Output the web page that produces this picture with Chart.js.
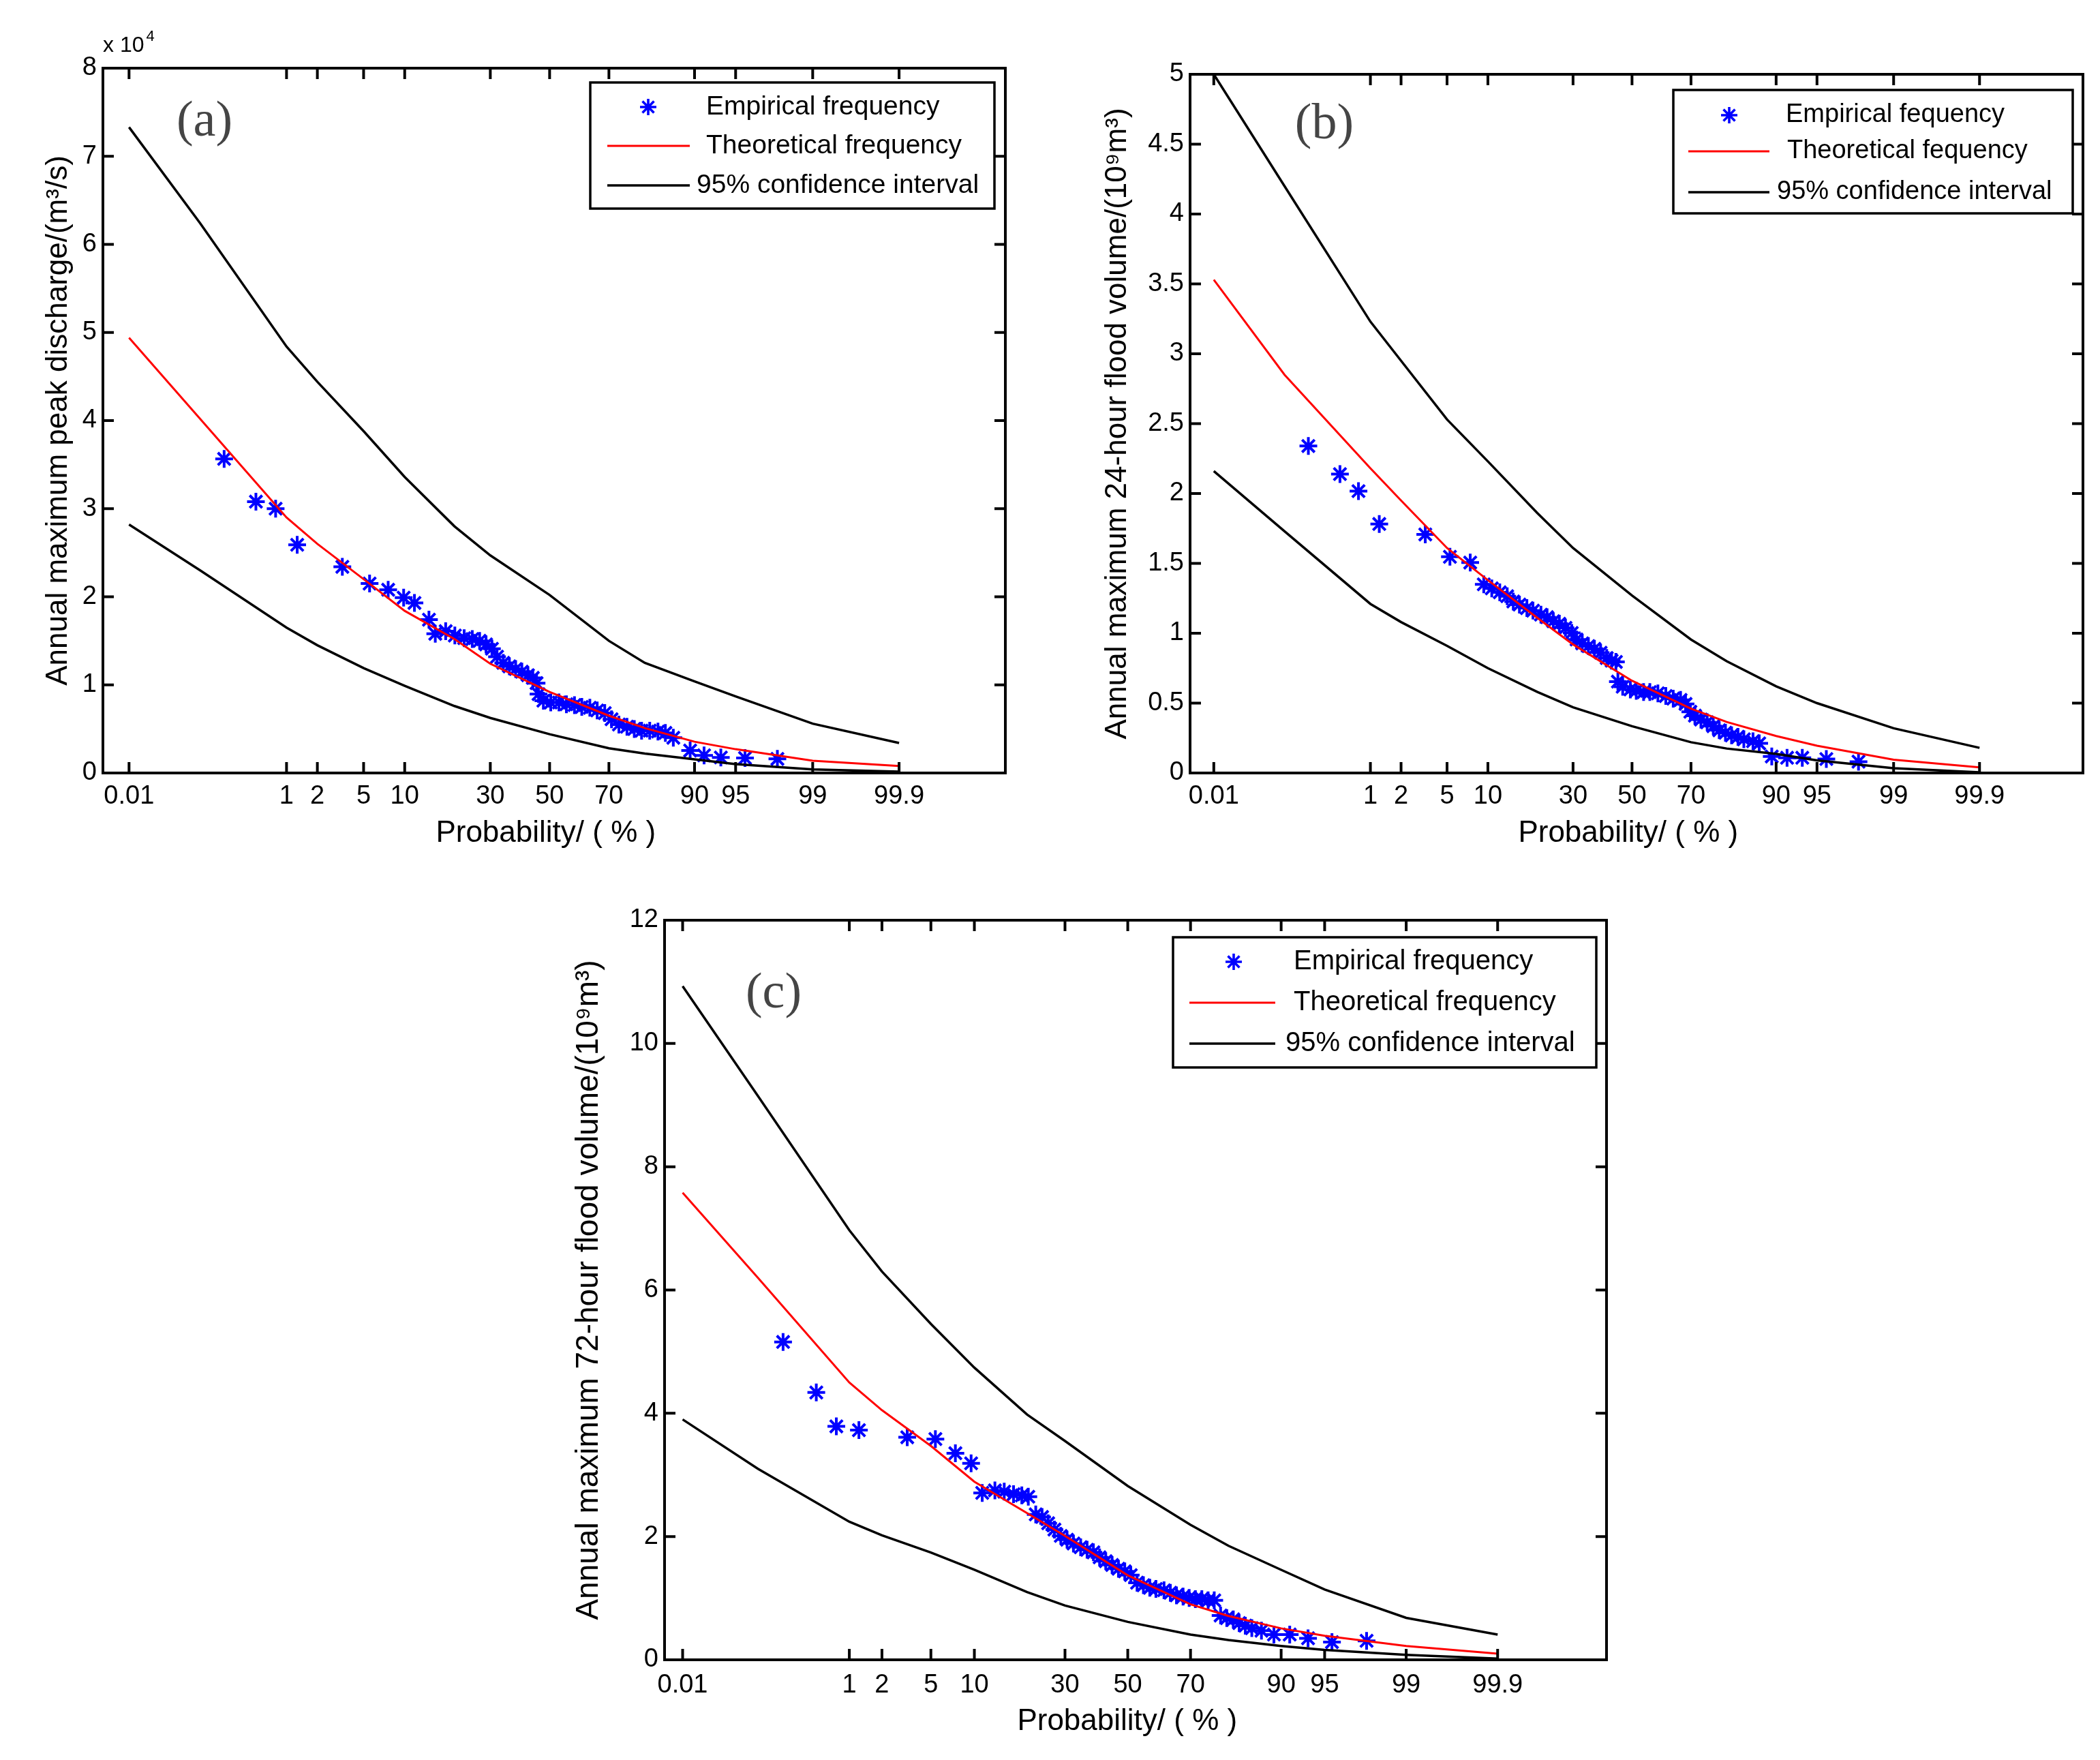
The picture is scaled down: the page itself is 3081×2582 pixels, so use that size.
<!DOCTYPE html>
<html>
<head>
    <title>Flood frequency curves</title>
    <script src="https://cdn.jsdelivr.net/npm/chart.js"></script>
    <style>
        html, body { margin: 0; padding: 0; background: #fff; overflow: hidden; }
        #page { position: relative; width: 3081px; height: 2582px; }
        canvas { position: absolute; }
    </style>
</head>
<body>
<div id="page"></div>
<script>
    // probability axis (normal probability paper)
    const probTicks = [0.01, 1, 2, 5, 10, 30, 50, 70, 90, 95, 99, 99.9];
    const probTickLabels = ['0.01', '1', '2', '5', '10', '30', '50', '70', '90', '95', '99', '99.9'];
    const curveProb = [0.01, 0.1, 1, 2, 5, 10, 20, 30, 50, 70, 80, 90, 95, 99, 99.9];

    // (a) annual maximum peak discharge, m3/s
    const aTheory = [49400, 40200, 29000, 26000, 22000, 18400, 15200, 12400, 9200, 6500, 5100, 3550, 2700, 1400, 800];
    const aUpper = [73300, 62400, 48400, 44400, 38800, 33600, 28000, 24700, 20200, 15000, 12500, 10400, 8700, 5600, 3400];
    const aLower = [28200, 23000, 16500, 14500, 11900, 9900, 7600, 6250, 4400, 2800, 2200, 1550, 1000, 400, 150];
    const aEmpProb = [0.20, 0.47, 0.77, 1.28, 3.34, 5.57, 7.67, 9.84, 11.6, 14.3, 15.6, 17.9, 20.1, 22.5, 24.7,
        26.8, 28.7, 30.5, 32.1, 34.1, 36.1, 38.2, 40.3, 42.4, 44.1, 45.4, 46.1, 47.8, 50.4, 53.3, 55.9, 58.7,
        61.2, 63.9, 66.3, 68.7, 70.8, 73.0, 75.3, 77.3, 79.2, 81.2, 83.1, 84.7, 86.3, 89.3, 91.4, 93.5, 95.8, 97.8];
    const aEmpQ = [35650, 30800, 30000, 25900, 23400, 21500, 20800, 19900, 19300, 17400, 15800, 16100, 15600, 15300, 15200,
        15000, 14600, 14100, 13200, 12500, 12100, 11800, 11500, 11100, 10800, 10200, 8950, 8200, 8000, 8000, 7800, 7700,
        7500, 7400, 7100, 6800, 6100, 5500, 5250, 5000, 4800, 4800, 4700, 4550, 4000, 2550, 2000, 1760, 1700, 1600];

    // (b) annual maximum 24-hour flood volume, 10^9 m3
    const bTheory = [3.53, 2.85, 2.18, 1.95, 1.61, 1.38, 1.11, 0.92, 0.66, 0.46, 0.365, 0.265, 0.195, 0.095, 0.04];
    const bUpper = [5.0, 4.2, 3.23, 2.95, 2.53, 2.23, 1.86, 1.61, 1.27, 0.955, 0.8, 0.62, 0.50, 0.32, 0.18];
    const bLower = [2.16, 1.73, 1.21, 1.08, 0.91, 0.75, 0.58, 0.47, 0.335, 0.22, 0.175, 0.137, 0.09, 0.034, 0.005];
    const bEmpProb = [0.20, 0.47, 0.75, 1.23, 3.30, 5.27, 7.51, 9.37, 10.62, 11.98, 13.35, 14.55, 15.84, 17.49, 18.92,
        20.9, 22.5, 24.2, 25.9, 27.7, 29.6, 31.1, 32.9, 34.9, 36.9, 39.0, 41.1, 42.8, 44.3, 45.0, 46.7, 49.4, 51.5,
        54.1, 56.3, 59.1, 61.8, 64.3, 66.7, 68.3, 69.8, 71.2, 73.0, 74.8, 76.5, 78.1, 79.7, 81.2, 82.7, 84.0, 85.9,
        87.1, 89.3, 91.6, 93.5, 95.8, 97.8];
    const bEmpV = [2.340, 2.139, 2.017, 1.782, 1.707, 1.547, 1.506, 1.350, 1.321, 1.293, 1.265, 1.227, 1.205, 1.180, 1.162,
        1.133, 1.115, 1.086, 1.068, 1.039, 1.002, 0.955, 0.927, 0.908, 0.889, 0.861, 0.823, 0.804, 0.795, 0.654, 0.617,
        0.598, 0.588, 0.579, 0.579, 0.570, 0.551, 0.532, 0.523, 0.494, 0.438, 0.410, 0.382, 0.363, 0.335, 0.306, 0.288,
        0.269, 0.259, 0.241, 0.227, 0.212, 0.118, 0.109, 0.109, 0.100, 0.081];

    // (c) annual maximum 72-hour flood volume, 10^9 m3
    const cTheory = [7.58, 6.2, 4.5, 4.05, 3.47, 2.89, 2.38, 2.01, 1.37, 0.9, 0.71, 0.51, 0.39, 0.225, 0.10];
    const cUpper = [10.93, 9.15, 6.97, 6.3, 5.45, 4.74, 3.98, 3.55, 2.82, 2.19, 1.85, 1.46, 1.14, 0.68, 0.41];
    const cLower = [3.9, 3.1, 2.24, 2.02, 1.74, 1.46, 1.1, 0.88, 0.615, 0.41, 0.32, 0.225, 0.16, 0.08, 0.02];
    const cEmpProb = [0.199, 0.463, 0.745, 1.235, 3.27, 5.40, 7.49, 9.53, 11.2, 13.35, 15.1, 17.0, 18.8, 20.3, 22.1,
        23.7, 25.3, 27.0, 28.8, 30.6, 32.5, 34.7, 36.7, 38.7, 40.7, 42.7, 44.8, 46.9, 49.0, 51.0, 53.1, 55.2, 57.3,
        59.3, 61.9, 63.9, 65.8, 67.8, 69.6, 71.4, 73.2, 74.9, 76.5, 78.1, 79.6, 81.1, 82.4, 83.7, 85.0, 86.8, 88.9,
        91.2, 93.4, 95.6, 97.7];
    const cEmpV = [5.157, 4.337, 3.787, 3.726, 3.610, 3.582, 3.352, 3.188, 2.708, 2.749, 2.728, 2.687, 2.667, 2.646, 2.359,
        2.318, 2.215, 2.113, 2.010, 1.949, 1.887, 1.826, 1.785, 1.744, 1.662, 1.600, 1.538, 1.477, 1.436, 1.374, 1.251,
        1.210, 1.169, 1.149, 1.128, 1.087, 1.046, 1.026, 1.005, 0.985, 0.985, 0.964, 0.964, 0.718, 0.677, 0.656, 0.595,
        0.554, 0.513, 0.472, 0.410, 0.410, 0.349, 0.287, 0.308];

    // inverse of the standard normal CDF (Acklam)
    function normInv(p) {
        const a = [-3.969683028665376e+01, 2.209460984245205e+02, -2.759285104469687e+02, 1.383577518672690e+02, -3.066479806614716e+01, 2.506628277459239e+00];
        const b = [-5.447609879822406e+01, 1.615858368580409e+02, -1.556989798598866e+02, 6.680131188771972e+01, -1.328068155288572e+01];
        const c = [-7.784894002430293e-03, -3.223964580411365e-01, -2.400758277161838e+00, -2.549732539343734e+00, 4.374664141464968e+00, 2.938163982698783e+00];
        const d = [7.784695709041462e-03, 3.224671290700398e-01, 2.445134137142996e+00, 3.754408661907416e+00];
        const pl = 0.02425;
        if (p < pl) {
            const q = Math.sqrt(-2 * Math.log(p));
            return (((((c[0] * q + c[1]) * q + c[2]) * q + c[3]) * q + c[4]) * q + c[5]) / ((((d[0] * q + d[1]) * q + d[2]) * q + d[3]) * q + 1);
        }
        if (p <= 1 - pl) {
            const q = p - 0.5, r = q * q;
            return (((((a[0] * r + a[1]) * r + a[2]) * r + a[3]) * r + a[4]) * r + a[5]) * q / (((((b[0] * r + b[1]) * r + b[2]) * r + b[3]) * r + b[4]) * r + 1);
        }
        const q = Math.sqrt(-2 * Math.log(1 - p));
        return -(((((c[0] * q + c[1]) * q + c[2]) * q + c[3]) * q + c[4]) * q + c[5]) / ((((d[0] * q + d[1]) * q + d[2]) * q + d[3]) * q + 1);
    }
    const toZ = pct => normInv(pct / 100);
    const toPoints = (probs, vals) => probs.map((p, i) => ({ x: toZ(p), y: vals[i] }));

    Chart.defaults.font.family = "'Liberation Sans', Arial, sans-serif";
    Chart.defaults.color = '#000';

    // frame, inward ticks, legend, panel letter
    const framePlugin = {
        id: 'frame',
        afterDatasetsDraw(chart, args, o) {
            const ctx = chart.ctx;
            const area = chart.chartArea;
            const xs = chart.scales.x, ys = chart.scales.y;
            const ox = o.cx, oy = o.cy;
            ctx.save();
            ctx.strokeStyle = '#000';
            ctx.lineWidth = 4;
            ctx.strokeRect(area.left, area.top, area.right - area.left, area.bottom - area.top);
            const tl = 16;
            ctx.beginPath();
            xs.ticks.forEach(t => {
                const px = xs.getPixelForValue(t.value);
                ctx.moveTo(px, area.bottom); ctx.lineTo(px, area.bottom - tl);
                ctx.moveTo(px, area.top); ctx.lineTo(px, area.top + tl);
            });
            ys.ticks.forEach(t => {
                const py = ys.getPixelForValue(t.value);
                ctx.moveTo(area.left, py); ctx.lineTo(area.left + tl, py);
                ctx.moveTo(area.right, py); ctx.lineTo(area.right - tl, py);
            });
            ctx.stroke();

            // legend
            const lg = o.legend;
            ctx.lineWidth = 3.5;
            ctx.fillStyle = '#fff';
            ctx.fillRect(lg.box[0] - ox, lg.box[1] - oy, lg.box[2] - lg.box[0], lg.box[3] - lg.box[1]);
            ctx.strokeRect(lg.box[0] - ox, lg.box[1] - oy, lg.box[2] - lg.box[0], lg.box[3] - lg.box[1]);
            const ds = chart.data.datasets;
            // star marker
            const mx = lg.markerX - ox, my = lg.rows[0] - oy, r = 12;
            ctx.strokeStyle = ds[3].borderColor;
            ctx.lineWidth = 3.6;
            ctx.beginPath();
            ctx.moveTo(mx, my - r); ctx.lineTo(mx, my + r);
            ctx.moveTo(mx - r, my); ctx.lineTo(mx + r, my);
            const rd = r * 0.7071;
            ctx.moveTo(mx - rd, my - rd); ctx.lineTo(mx + rd, my + rd);
            ctx.moveTo(mx - rd, my + rd); ctx.lineTo(mx + rd, my - rd);
            ctx.stroke();
            [ds[0], ds[1]].forEach((d, i) => {
                ctx.strokeStyle = d.borderColor;
                ctx.lineWidth = d.borderWidth;
                ctx.beginPath();
                ctx.moveTo(lg.line[0] - ox, lg.rows[i + 1] - oy);
                ctx.lineTo(lg.line[1] - ox, lg.rows[i + 1] - oy);
                ctx.stroke();
            });
            ctx.fillStyle = '#000';
            ctx.font = lg.font + "px 'Liberation Sans', Arial, sans-serif";
            ctx.textAlign = 'left';
            ctx.textBaseline = 'middle';
            lg.labels.forEach((t, i) => ctx.fillText(t, lg.textX[i] - ox, lg.rows[i] - oy));

            // panel letter
            ctx.fillStyle = '#454545';
            ctx.font = "74px 'Liberation Serif', 'DejaVu Serif', serif";
            ctx.textAlign = 'center';
            ctx.fillText(o.letter.text, o.letter.x - ox, o.letter.y - oy);

            // exponent over the y axis
            if (o.exponent) {
                const e = o.exponent;
                ctx.fillStyle = '#000';
                ctx.textAlign = 'left';
                ctx.font = "32px 'Liberation Sans', Arial, sans-serif";
                ctx.fillText('x 10', e.x - ox, e.y - oy);
                const w = ctx.measureText('x 10').width;
                ctx.font = "22px 'Liberation Sans', Arial, sans-serif";
                ctx.fillText(e.power, e.x - ox + w + 3, e.y - oy - 13);
            }
            ctx.restore();
        }
    };

    function makePanel(cfg) {
        const yW = 170, xH = 140, padTop = 100, padRight = 20;
        const cx = cfg.box[0] - yW, cy = cfg.box[1] - padTop;
        const canvas = document.createElement('canvas');
        canvas.width = cfg.box[2] - cfg.box[0] + yW + padRight;
        canvas.height = cfg.box[3] - cfg.box[1] + padTop + xH;
        canvas.style.left = cx + 'px';
        canvas.style.top = cy + 'px';
        document.getElementById('page').appendChild(canvas);

        new Chart(canvas.getContext('2d'), {
            type: 'scatter',
            data: {
                datasets: [{
                    label: 'Theoretical frequency',
                    data: toPoints(curveProb, cfg.theory),
                    showLine: true, borderColor: '#ff0000', borderWidth: 3, pointRadius: 0, tension: 0
                }, {
                    label: '95% confidence interval',
                    data: toPoints(curveProb, cfg.upper),
                    showLine: true, borderColor: '#000000', borderWidth: 3.5, pointRadius: 0, tension: 0
                }, {
                    label: '95% confidence interval',
                    data: toPoints(curveProb, cfg.lower),
                    showLine: true, borderColor: '#000000', borderWidth: 3.5, pointRadius: 0, tension: 0
                }, {
                    label: 'Empirical frequency',
                    data: toPoints(cfg.empProb, cfg.empVal),
                    pointStyle: 'star', pointRadius: 13, borderWidth: 4,
                    borderColor: '#0000ff', backgroundColor: '#0000ff'
                }]
            },
            options: {
                responsive: false,
                devicePixelRatio: 1,
                animation: false,
                events: [],
                layout: { padding: { left: 0, top: padTop, right: padRight, bottom: 0 } },
                plugins: {
                    legend: { display: false },
                    tooltip: { enabled: false },
                    frame: {
                        cx: cx, cy: cy,
                        legend: cfg.legend,
                        letter: cfg.letter,
                        exponent: cfg.exponent
                    }
                },
                scales: {
                    x: {
                        type: 'linear',
                        min: cfg.xRange[0],
                        max: cfg.xRange[1],
                        afterBuildTicks: s => { s.ticks = probTicks.map(p => ({ value: toZ(p) })); },
                        afterFit: s => { s.height = xH; },
                        grid: { display: false, drawTicks: false },
                        border: { display: false },
                        ticks: {
                            autoSkip: false, maxRotation: 0, minRotation: 0,
                            padding: cfg.xTickPad, font: { size: 38 },
                            callback: (v, i) => probTickLabels[i]
                        },
                        title: {
                            display: true, text: 'Probability/ ( % )  ',
                            font: { size: 44 }, padding: { top: 0, bottom: cfg.xTitlePad }
                        }
                    },
                    y: {
                        min: 0,
                        max: cfg.yMax,
                        afterFit: s => { s.width = yW; },
                        grid: { display: false, drawTicks: false },
                        border: { display: false },
                        ticks: {
                            stepSize: cfg.yStep, padding: 9, font: { size: 38 },
                            callback: v => cfg.yScale ? String(v / cfg.yScale) : String(v)
                        },
                        title: {
                            display: true, text: cfg.yTitle,
                            font: { size: cfg.yTitleSize }, padding: { top: cfg.yTitlePad, bottom: 0 }
                        }
                    }
                }
            },
            plugins: [framePlugin]
        });
    }

    makePanel({
        box: [151, 100, 1475, 1134],
        xRange: [-3.95, 4.03],
        yMax: 80000, yStep: 10000, yScale: 10000,
        yTitle: 'Annual maximum peak discharge/(m³/s)', yTitleSize: 44, yTitlePad: 78,
        xTickPad: 12, xTitlePad: 25,
        theory: aTheory, upper: aUpper, lower: aLower, empProb: aEmpProb, empVal: aEmpQ,
        legend: {
            box: [866, 121, 1459, 306], rows: [157, 214, 272], markerX: 951, line: [891, 1012],
            textX: [1036, 1036, 1022], font: 39,
            labels: ['Empirical frequency', 'Theoretical frequency', '95% confidence interval']
        },
        letter: { text: '(a)', x: 300, y: 180 },
        exponent: { x: 151, y: 67, power: '4' }
    });

    makePanel({
        box: [1746, 109, 3056, 1134],
        xRange: [-3.93, 4.01],
        yMax: 5, yStep: 0.5,
        yTitle: 'Annual maximum 24-hour flood volume/(10⁹m³)', yTitleSize: 44, yTitlePad: 37,
        xTickPad: 12, xTitlePad: 25,
        theory: bTheory, upper: bUpper, lower: bLower, empProb: bEmpProb, empVal: bEmpV,
        legend: {
            box: [2455, 132, 3041, 313], rows: [169, 222, 282], markerX: 2537, line: [2477, 2596],
            textX: [2620, 2622, 2607], font: 38,
            labels: ['Empirical fequency', 'Theoretical fequency', '95% confidence interval']
        },
        letter: { text: '(b)', x: 1943, y: 184 }
    });

    makePanel({
        box: [975, 1350, 2357, 2435],
        xRange: [-3.87, 4.0],
        yMax: 12, yStep: 2,
        yTitle: 'Annual maximum 72-hour flood volume/(10⁹m³)', yTitleSize: 46, yTitlePad: 32,
        xTickPad: 15, xTitlePad: 23,
        theory: cTheory, upper: cUpper, lower: cLower, empProb: cEmpProb, empVal: cEmpV,
        legend: {
            box: [1721, 1375, 2342, 1566], rows: [1411, 1471, 1531], markerX: 1810, line: [1745, 1871],
            textX: [1898, 1898, 1886], font: 40,
            labels: ['Empirical frequency', 'Theoretical frequency', '95% confidence interval']
        },
        letter: { text: '(c)', x: 1135, y: 1459 }
    });
</script>
</body>
</html>
